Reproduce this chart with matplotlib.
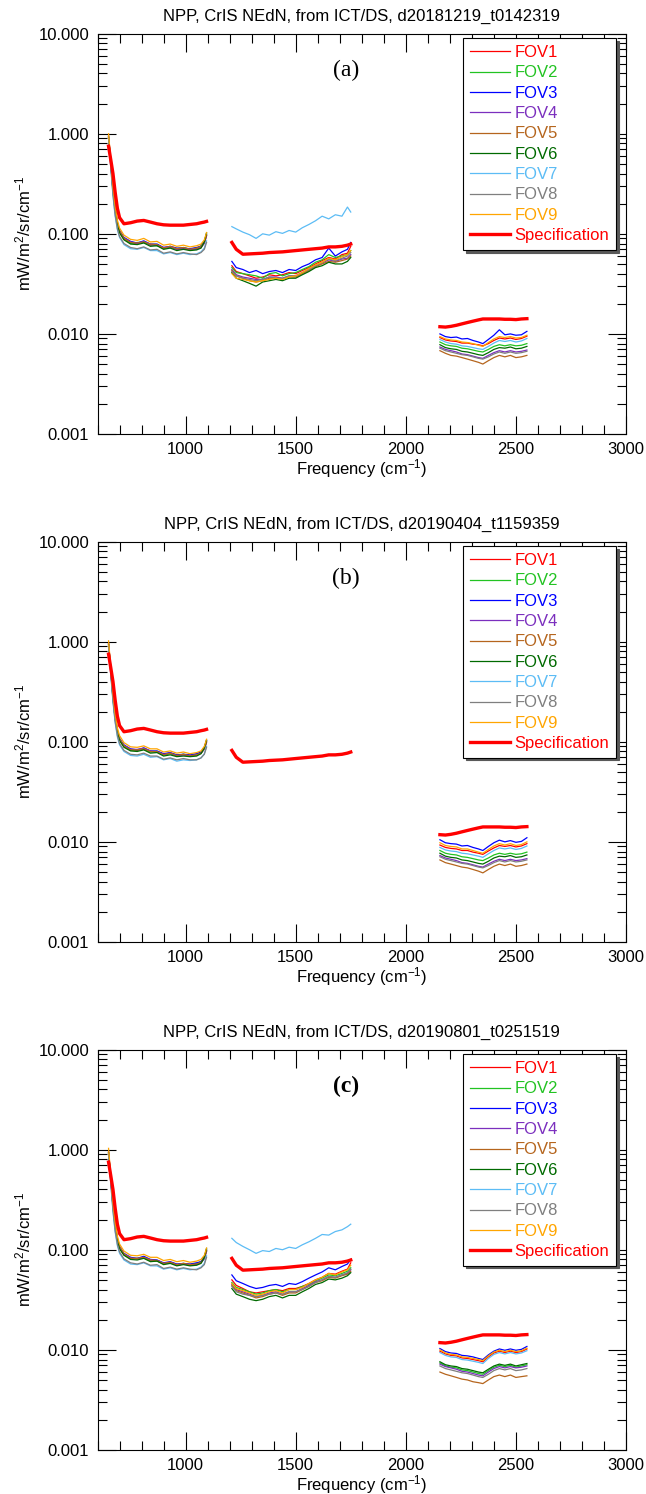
import numpy as np
import matplotlib
matplotlib.use('Agg')
import matplotlib.pyplot as plt
from matplotlib.ticker import FixedLocator, FormatStrFormatter, MultipleLocator, LogLocator, NullFormatter

plt.rcParams['font.family'] = ['Liberation Sans', 'DejaVu Sans']
plt.rcParams['mathtext.default'] = 'regular'

# ---- data ----
freq_lw = [650, 660, 670, 680, 690, 700, 720, 750, 780, 810, 840, 870, 900, 930, 960, 990, 1020, 1050, 1070, 1085, 1095]
freq_mw = [1210, 1230, 1260, 1290, 1320, 1350, 1380, 1410, 1440, 1470, 1500, 1530, 1560, 1590, 1620, 1650, 1680, 1710, 1735, 1750]
freq_sw = [2155, 2180, 2205, 2230, 2255, 2280, 2305, 2330, 2350, 2375, 2400, 2425, 2450, 2475, 2500, 2525, 2550]

spec_lw = [0.75, 0.55, 0.40, 0.26, 0.18, 0.145, 0.126, 0.129, 0.134, 0.136, 0.131, 0.126, 0.123, 0.122, 0.122, 0.122, 0.124, 0.126, 0.129, 0.131, 0.133]
spec_mw = [0.082, 0.070, 0.0625, 0.063, 0.0635, 0.064, 0.065, 0.0655, 0.066, 0.067, 0.068, 0.069, 0.070, 0.071, 0.072, 0.074, 0.074, 0.075, 0.077, 0.079]
spec_sw = [0.0118, 0.0117, 0.0119, 0.0122, 0.0126, 0.0130, 0.0134, 0.0138, 0.0141, 0.0141, 0.0141, 0.0141, 0.0140, 0.0140, 0.0139, 0.0141, 0.0142]

fov_names = ['FOV1', 'FOV2', 'FOV3', 'FOV4', 'FOV5', 'FOV6', 'FOV7', 'FOV8', 'FOV9']
fov_colors = ['#ff0000', '#22c322', '#0000ff', '#7b2fbe', '#b5651d', '#006a00', '#5cbcf5', '#7f7f7f', '#ffa500']

titles = ['NPP, CrIS NEdN, from ICT/DS, d20181219_t0142319',
          'NPP, CrIS NEdN, from ICT/DS, d20190404_t1159359',
          'NPP, CrIS NEdN, from ICT/DS, d20190801_t0251519']
panel_tags = ['(a)', '(b)', '(c)']

# panel (a)
a_lw = [
    [0.92, 0.50, 0.27, 0.17, 0.124, 0.104, 0.089, 0.081, 0.080, 0.083, 0.077, 0.078, 0.071, 0.074, 0.070, 0.071, 0.069, 0.071, 0.074, 0.081, 0.096],
    [0.93, 0.51, 0.27, 0.17, 0.126, 0.105, 0.090, 0.080, 0.082, 0.082, 0.078, 0.076, 0.072, 0.073, 0.071, 0.073, 0.070, 0.072, 0.076, 0.083, 0.100],
    [0.94, 0.52, 0.28, 0.18, 0.130, 0.108, 0.092, 0.084, 0.081, 0.085, 0.079, 0.079, 0.073, 0.075, 0.072, 0.072, 0.071, 0.073, 0.075, 0.084, 0.098],
    [0.93, 0.51, 0.28, 0.17, 0.127, 0.106, 0.091, 0.083, 0.080, 0.084, 0.078, 0.077, 0.073, 0.074, 0.070, 0.071, 0.070, 0.070, 0.073, 0.080, 0.095],
    [0.95, 0.52, 0.28, 0.18, 0.128, 0.107, 0.090, 0.082, 0.081, 0.083, 0.079, 0.078, 0.072, 0.075, 0.071, 0.073, 0.070, 0.072, 0.075, 0.082, 0.097],
    [0.92, 0.50, 0.27, 0.17, 0.123, 0.102, 0.087, 0.079, 0.078, 0.081, 0.075, 0.076, 0.070, 0.072, 0.068, 0.070, 0.068, 0.069, 0.072, 0.083, 0.102],
    [0.90, 0.46, 0.24, 0.15, 0.110, 0.092, 0.078, 0.071, 0.070, 0.073, 0.068, 0.068, 0.063, 0.065, 0.062, 0.064, 0.062, 0.063, 0.066, 0.072, 0.085],
    [0.91, 0.47, 0.25, 0.155, 0.113, 0.094, 0.080, 0.073, 0.071, 0.074, 0.069, 0.070, 0.064, 0.066, 0.063, 0.065, 0.063, 0.062, 0.065, 0.070, 0.082],
    [1.00, 0.55, 0.30, 0.19, 0.137, 0.114, 0.097, 0.088, 0.086, 0.090, 0.083, 0.084, 0.077, 0.079, 0.075, 0.077, 0.074, 0.076, 0.079, 0.087, 0.103],
]
a_mw = [
    [0.048, 0.042, 0.040, 0.038, 0.036, 0.037, 0.039, 0.038, 0.039, 0.041, 0.040, 0.043, 0.046, 0.050, 0.054, 0.058, 0.056, 0.062, 0.064, 0.075],
    [0.046, 0.041, 0.040, 0.039, 0.038, 0.036, 0.040, 0.041, 0.038, 0.040, 0.041, 0.044, 0.047, 0.052, 0.055, 0.062, 0.058, 0.060, 0.062, 0.068],
    [0.053, 0.046, 0.044, 0.041, 0.043, 0.040, 0.042, 0.043, 0.041, 0.044, 0.043, 0.047, 0.050, 0.055, 0.058, 0.072, 0.060, 0.066, 0.070, 0.082],
    [0.044, 0.039, 0.037, 0.036, 0.035, 0.035, 0.037, 0.037, 0.036, 0.038, 0.038, 0.041, 0.044, 0.048, 0.051, 0.055, 0.053, 0.056, 0.057, 0.062],
    [0.043, 0.038, 0.036, 0.034, 0.033, 0.034, 0.036, 0.036, 0.035, 0.037, 0.037, 0.040, 0.043, 0.047, 0.050, 0.053, 0.052, 0.054, 0.056, 0.060],
    [0.041, 0.036, 0.034, 0.032, 0.030, 0.033, 0.034, 0.035, 0.034, 0.036, 0.036, 0.039, 0.042, 0.046, 0.048, 0.052, 0.050, 0.050, 0.053, 0.058],
    [0.118, 0.112, 0.104, 0.098, 0.090, 0.100, 0.097, 0.105, 0.101, 0.108, 0.104, 0.115, 0.124, 0.135, 0.150, 0.141, 0.155, 0.150, 0.185, 0.165],
    [0.042, 0.038, 0.036, 0.035, 0.034, 0.035, 0.037, 0.036, 0.036, 0.038, 0.038, 0.041, 0.044, 0.048, 0.052, 0.056, 0.054, 0.057, 0.060, 0.065],
    [0.040, 0.036, 0.035, 0.034, 0.033, 0.034, 0.035, 0.036, 0.035, 0.037, 0.038, 0.041, 0.045, 0.049, 0.052, 0.057, 0.055, 0.059, 0.062, 0.068],
]
a_sw = [
    [0.0092, 0.0087, 0.0085, 0.0084, 0.0081, 0.0081, 0.0079, 0.0078, 0.0076, 0.0080, 0.0086, 0.0091, 0.0089, 0.0091, 0.0088, 0.0090, 0.0095],
    [0.0083, 0.0078, 0.0076, 0.0075, 0.0072, 0.0071, 0.0069, 0.0067, 0.0066, 0.0070, 0.0075, 0.0078, 0.0076, 0.0078, 0.0076, 0.0077, 0.0080],
    [0.0100, 0.0094, 0.0092, 0.0093, 0.0089, 0.0090, 0.0086, 0.0083, 0.0080, 0.0088, 0.0097, 0.0110, 0.0098, 0.0100, 0.0097, 0.0098, 0.0106],
    [0.0074, 0.0070, 0.0068, 0.0066, 0.0063, 0.0062, 0.0060, 0.0058, 0.0057, 0.0061, 0.0065, 0.0068, 0.0066, 0.0068, 0.0066, 0.0067, 0.0069],
    [0.0068, 0.0064, 0.0061, 0.0060, 0.0058, 0.0056, 0.0054, 0.0052, 0.0050, 0.0054, 0.0058, 0.0061, 0.0059, 0.0061, 0.0058, 0.0059, 0.0061],
    [0.0078, 0.0073, 0.0071, 0.0070, 0.0067, 0.0066, 0.0064, 0.0062, 0.0061, 0.0065, 0.0070, 0.0073, 0.0072, 0.0074, 0.0071, 0.0072, 0.0075],
    [0.0088, 0.0083, 0.0080, 0.0079, 0.0076, 0.0075, 0.0073, 0.0071, 0.0070, 0.0075, 0.0081, 0.0086, 0.0084, 0.0086, 0.0083, 0.0085, 0.0090],
    [0.0072, 0.0068, 0.0066, 0.0064, 0.0062, 0.0061, 0.0059, 0.0057, 0.0056, 0.0059, 0.0063, 0.0066, 0.0064, 0.0066, 0.0064, 0.0065, 0.0067],
    [0.0094, 0.0089, 0.0087, 0.0086, 0.0083, 0.0082, 0.0080, 0.0077, 0.0075, 0.0082, 0.0089, 0.0094, 0.0092, 0.0094, 0.0091, 0.0092, 0.0097],
]

# panel (b): no midwave FOV data
b_lw = [
    [0.95, 0.52, 0.28, 0.17, 0.125, 0.104, 0.090, 0.083, 0.082, 0.085, 0.080, 0.079, 0.075, 0.077, 0.073, 0.074, 0.072, 0.074, 0.077, 0.085, 0.100],
    [0.94, 0.51, 0.28, 0.17, 0.126, 0.105, 0.091, 0.082, 0.083, 0.084, 0.079, 0.080, 0.074, 0.076, 0.073, 0.075, 0.073, 0.075, 0.078, 0.086, 0.102],
    [0.96, 0.53, 0.29, 0.18, 0.130, 0.108, 0.093, 0.085, 0.083, 0.087, 0.081, 0.081, 0.076, 0.078, 0.074, 0.075, 0.074, 0.076, 0.079, 0.088, 0.103],
    [0.94, 0.52, 0.28, 0.17, 0.127, 0.106, 0.092, 0.084, 0.084, 0.086, 0.081, 0.079, 0.075, 0.077, 0.072, 0.074, 0.073, 0.074, 0.077, 0.084, 0.098],
    [0.96, 0.53, 0.29, 0.18, 0.129, 0.107, 0.091, 0.083, 0.083, 0.085, 0.080, 0.080, 0.074, 0.077, 0.073, 0.075, 0.072, 0.074, 0.077, 0.085, 0.100],
    [0.93, 0.50, 0.27, 0.17, 0.124, 0.103, 0.088, 0.081, 0.080, 0.083, 0.077, 0.078, 0.072, 0.074, 0.071, 0.072, 0.071, 0.072, 0.076, 0.087, 0.104],
    [0.90, 0.47, 0.25, 0.155, 0.112, 0.093, 0.080, 0.073, 0.072, 0.075, 0.070, 0.071, 0.066, 0.068, 0.064, 0.066, 0.065, 0.066, 0.069, 0.076, 0.090],
    [0.91, 0.48, 0.26, 0.16, 0.116, 0.096, 0.082, 0.075, 0.074, 0.077, 0.072, 0.072, 0.067, 0.069, 0.066, 0.068, 0.066, 0.066, 0.069, 0.075, 0.088],
    [1.02, 0.56, 0.31, 0.19, 0.138, 0.115, 0.098, 0.089, 0.088, 0.091, 0.085, 0.085, 0.079, 0.081, 0.077, 0.079, 0.076, 0.078, 0.081, 0.090, 0.106],
]
b_sw = [
    [0.0093, 0.0088, 0.0086, 0.0085, 0.0082, 0.0082, 0.0079, 0.0077, 0.0075, 0.0081, 0.0087, 0.0092, 0.0090, 0.0092, 0.0089, 0.0091, 0.0096],
    [0.0082, 0.0077, 0.0075, 0.0074, 0.0071, 0.0070, 0.0068, 0.0066, 0.0065, 0.0069, 0.0074, 0.0077, 0.0075, 0.0077, 0.0075, 0.0076, 0.0079],
    [0.0105, 0.0098, 0.0096, 0.0095, 0.0091, 0.0092, 0.0088, 0.0085, 0.0082, 0.0090, 0.0098, 0.0104, 0.0100, 0.0103, 0.0099, 0.0101, 0.0110],
    [0.0073, 0.0069, 0.0067, 0.0065, 0.0062, 0.0061, 0.0059, 0.0057, 0.0056, 0.0060, 0.0064, 0.0067, 0.0065, 0.0067, 0.0065, 0.0066, 0.0068],
    [0.0066, 0.0062, 0.0060, 0.0058, 0.0056, 0.0055, 0.0053, 0.0051, 0.0049, 0.0053, 0.0057, 0.0060, 0.0058, 0.0060, 0.0057, 0.0058, 0.0060],
    [0.0077, 0.0072, 0.0070, 0.0069, 0.0066, 0.0065, 0.0063, 0.0061, 0.0060, 0.0064, 0.0069, 0.0072, 0.0071, 0.0073, 0.0070, 0.0071, 0.0074],
    [0.0088, 0.0083, 0.0081, 0.0080, 0.0077, 0.0076, 0.0074, 0.0072, 0.0070, 0.0076, 0.0082, 0.0087, 0.0085, 0.0087, 0.0084, 0.0086, 0.0091],
    [0.0071, 0.0067, 0.0065, 0.0063, 0.0061, 0.0060, 0.0058, 0.0056, 0.0055, 0.0058, 0.0062, 0.0065, 0.0063, 0.0065, 0.0063, 0.0064, 0.0066],
    [0.0098, 0.0092, 0.0090, 0.0089, 0.0085, 0.0085, 0.0082, 0.0079, 0.0077, 0.0084, 0.0091, 0.0096, 0.0093, 0.0096, 0.0092, 0.0094, 0.0100],
]

# panel (c)
c_lw = [
    [0.93, 0.51, 0.27, 0.17, 0.125, 0.104, 0.089, 0.082, 0.081, 0.084, 0.078, 0.078, 0.072, 0.075, 0.070, 0.072, 0.070, 0.072, 0.075, 0.082, 0.097],
    [0.93, 0.51, 0.28, 0.17, 0.126, 0.105, 0.090, 0.081, 0.082, 0.083, 0.078, 0.077, 0.073, 0.074, 0.071, 0.073, 0.071, 0.073, 0.076, 0.084, 0.100],
    [0.95, 0.52, 0.28, 0.18, 0.130, 0.108, 0.092, 0.084, 0.082, 0.086, 0.080, 0.079, 0.074, 0.076, 0.072, 0.073, 0.072, 0.074, 0.076, 0.085, 0.099],
    [0.93, 0.51, 0.28, 0.17, 0.127, 0.106, 0.091, 0.083, 0.081, 0.084, 0.079, 0.078, 0.073, 0.075, 0.070, 0.072, 0.071, 0.071, 0.074, 0.081, 0.096],
    [0.95, 0.52, 0.28, 0.18, 0.128, 0.107, 0.091, 0.082, 0.082, 0.084, 0.079, 0.078, 0.073, 0.075, 0.071, 0.073, 0.071, 0.072, 0.075, 0.083, 0.098],
    [0.92, 0.50, 0.27, 0.17, 0.123, 0.102, 0.088, 0.080, 0.079, 0.082, 0.076, 0.077, 0.071, 0.073, 0.069, 0.071, 0.069, 0.070, 0.073, 0.084, 0.103],
    [0.90, 0.46, 0.24, 0.15, 0.110, 0.092, 0.079, 0.072, 0.071, 0.074, 0.069, 0.069, 0.064, 0.066, 0.063, 0.065, 0.063, 0.064, 0.067, 0.073, 0.087],
    [0.91, 0.47, 0.25, 0.155, 0.114, 0.095, 0.081, 0.074, 0.072, 0.075, 0.070, 0.071, 0.065, 0.067, 0.064, 0.066, 0.064, 0.063, 0.066, 0.071, 0.084],
    [1.03, 0.56, 0.30, 0.19, 0.137, 0.114, 0.097, 0.088, 0.087, 0.090, 0.084, 0.084, 0.078, 0.080, 0.076, 0.078, 0.075, 0.077, 0.080, 0.088, 0.104],
]
c_mw = [
    [0.050, 0.044, 0.041, 0.038, 0.037, 0.038, 0.039, 0.040, 0.039, 0.041, 0.041, 0.043, 0.046, 0.050, 0.053, 0.058, 0.057, 0.061, 0.064, 0.074],
    [0.047, 0.042, 0.040, 0.038, 0.036, 0.037, 0.039, 0.040, 0.038, 0.040, 0.040, 0.043, 0.045, 0.049, 0.052, 0.056, 0.055, 0.058, 0.061, 0.066],
    [0.056, 0.049, 0.046, 0.043, 0.041, 0.042, 0.044, 0.045, 0.043, 0.046, 0.045, 0.048, 0.052, 0.056, 0.060, 0.066, 0.063, 0.068, 0.072, 0.080],
    [0.045, 0.040, 0.038, 0.036, 0.034, 0.035, 0.037, 0.038, 0.036, 0.038, 0.038, 0.041, 0.044, 0.048, 0.050, 0.054, 0.053, 0.056, 0.058, 0.063],
    [0.044, 0.039, 0.037, 0.035, 0.033, 0.034, 0.036, 0.037, 0.035, 0.037, 0.037, 0.040, 0.043, 0.047, 0.049, 0.053, 0.052, 0.055, 0.057, 0.061],
    [0.041, 0.036, 0.034, 0.032, 0.031, 0.032, 0.034, 0.035, 0.033, 0.035, 0.035, 0.038, 0.041, 0.045, 0.047, 0.051, 0.050, 0.052, 0.055, 0.059],
    [0.130, 0.118, 0.108, 0.100, 0.092, 0.098, 0.096, 0.103, 0.100, 0.106, 0.103, 0.112, 0.120, 0.130, 0.142, 0.140, 0.152, 0.158, 0.170, 0.180],
    [0.043, 0.038, 0.036, 0.035, 0.034, 0.035, 0.036, 0.037, 0.036, 0.038, 0.038, 0.040, 0.043, 0.047, 0.050, 0.054, 0.053, 0.056, 0.059, 0.064],
    [0.046, 0.041, 0.039, 0.037, 0.035, 0.036, 0.038, 0.039, 0.037, 0.040, 0.040, 0.042, 0.046, 0.050, 0.053, 0.058, 0.056, 0.060, 0.063, 0.070],
]
c_sw = [
    [0.0097, 0.0091, 0.0088, 0.0087, 0.0083, 0.0082, 0.0080, 0.0078, 0.0076, 0.0085, 0.0093, 0.0097, 0.0094, 0.0097, 0.0094, 0.0096, 0.0102],
    [0.0074, 0.0069, 0.0067, 0.0066, 0.0063, 0.0062, 0.0060, 0.0058, 0.0057, 0.0062, 0.0067, 0.0070, 0.0068, 0.0070, 0.0067, 0.0069, 0.0071],
    [0.0103, 0.0096, 0.0093, 0.0092, 0.0088, 0.0087, 0.0085, 0.0082, 0.0080, 0.0089, 0.0097, 0.0102, 0.0099, 0.0102, 0.0099, 0.0101, 0.0108],
    [0.0072, 0.0068, 0.0066, 0.0064, 0.0061, 0.0060, 0.0058, 0.0056, 0.0055, 0.0060, 0.0065, 0.0068, 0.0066, 0.0068, 0.0066, 0.0067, 0.0069],
    [0.0060, 0.0057, 0.0055, 0.0053, 0.0051, 0.0050, 0.0048, 0.0047, 0.0046, 0.0050, 0.0054, 0.0056, 0.0054, 0.0056, 0.0053, 0.0054, 0.0055],
    [0.0076, 0.0071, 0.0069, 0.0068, 0.0065, 0.0064, 0.0062, 0.0060, 0.0059, 0.0064, 0.0069, 0.0072, 0.0070, 0.0072, 0.0069, 0.0071, 0.0073],
    [0.0094, 0.0088, 0.0085, 0.0084, 0.0080, 0.0079, 0.0077, 0.0075, 0.0073, 0.0082, 0.0090, 0.0094, 0.0091, 0.0094, 0.0091, 0.0093, 0.0098],
    [0.0069, 0.0065, 0.0063, 0.0061, 0.0059, 0.0058, 0.0056, 0.0054, 0.0053, 0.0057, 0.0062, 0.0065, 0.0063, 0.0065, 0.0062, 0.0063, 0.0065],
    [0.0100, 0.0093, 0.0090, 0.0089, 0.0085, 0.0084, 0.0082, 0.0080, 0.0078, 0.0087, 0.0095, 0.0099, 0.0096, 0.0099, 0.0096, 0.0098, 0.0104],
]

panels = [
    (a_lw, a_mw, a_sw),
    (b_lw, None, b_sw),
    (c_lw, c_mw, c_sw),
]

fig = plt.figure(figsize=(6.46, 14.94), dpi=100)
bottoms = [0.7095, 0.3695, 0.0295]

for k, (lw_set, mw_set, sw_set) in enumerate(panels):
    ax = fig.add_axes([0.151, bottoms[k], 0.818, 0.268])

    for i in range(9):
        col = fov_colors[i]
        ax.plot(freq_lw, lw_set[i], color=col, lw=0.9, label=fov_names[i])
        if mw_set is not None:
            ax.plot(freq_mw, mw_set[i], color=col, lw=0.9)
        ax.plot(freq_sw, sw_set[i], color=col, lw=0.9)

    ax.plot(freq_lw, spec_lw, color='#ff0000', lw=2.4, label='Specification')
    ax.plot(freq_mw, spec_mw, color='#ff0000', lw=2.4)
    ax.plot(freq_sw, spec_sw, color='#ff0000', lw=2.4)

    ax.set_yscale('log')
    ax.set_xlim(600, 3000)
    ax.set_ylim(0.001, 10)
    ax.xaxis.set_major_locator(FixedLocator([1000, 1500, 2000, 2500, 3000]))
    ax.xaxis.set_minor_locator(MultipleLocator(100))
    ax.yaxis.set_major_locator(FixedLocator([0.001, 0.01, 0.1, 1, 10]))
    ax.yaxis.set_major_formatter(FormatStrFormatter('%.3f'))
    ax.yaxis.set_minor_locator(LogLocator(base=10, subs=np.arange(2, 10)))
    ax.yaxis.set_minor_formatter(NullFormatter())
    ax.tick_params(which='both', direction='in', top=True, right=True, labelsize=12, width=0.8)
    ax.tick_params(which='major', length=13, pad=6)
    ax.tick_params(which='minor', length=6.5)
    for s in ax.spines.values():
        s.set_linewidth(0.8)

    ax.set_title(titles[k], fontsize=12, pad=9)
    ax.set_xlabel('Frequency (cm$^{-1}$)', fontsize=12, labelpad=0)
    ax.set_ylabel('mW/m$^2$/sr/cm$^{-1}$', fontsize=12)
    ax.yaxis.set_label_coords(-0.122, 0.5)

    ax.text(0.47, 0.908, panel_tags[k], transform=ax.transAxes, ha='center', va='center',
            family='Liberation Serif', fontsize=17, fontweight='bold' if k == 2 else 'normal')

    leg = ax.legend(loc='upper right', bbox_to_anchor=(0.981, 0.988), borderaxespad=0,
                    fontsize=12, frameon=True, fancybox=False,
                    shadow={'color': '0.35', 'alpha': 1.0},
                    handlelength=2.4, handletextpad=0.3, labelspacing=0.32,
                    borderpad=0.4, edgecolor='black')
    leg.get_frame().set_linewidth(0.8)
    for txt, line in zip(leg.get_texts(), leg.get_lines()):
        txt.set_color(line.get_color())

fig.savefig('out.png', dpi=100)
